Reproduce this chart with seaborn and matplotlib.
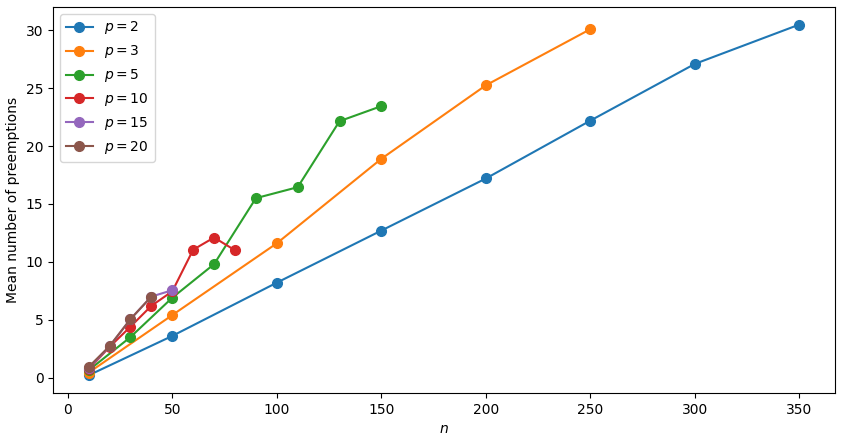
import matplotlib
matplotlib.use("Agg")
import matplotlib.pyplot as plt
import seaborn as sns

p_values = [2, 3, 5, 10, 15, 20]

n_p2 = [10, 50, 100, 150, 200, 250, 300, 350]
y_p2 = [0.2, 3.6, 8.2, 12.7, 17.2, 22.2, 27.1, 30.5]

n_p3 = [10, 50, 100, 150, 200, 250]
y_p3 = [0.43, 5.4, 11.6, 18.9, 25.25, 30.1]

n_p5 = [10, 30, 50, 70, 90, 110, 130, 150]
y_p5 = [0.63, 3.5, 6.9, 9.8, 15.5, 16.45, 22.15, 23.45]

n_p10 = [10, 20, 30, 40, 50, 60, 70, 80]
y_p10 = [0.72, 2.65, 4.4, 6.2, 7.45, 11.05, 12.1, 11.0]

n_p15 = [10, 20, 30, 40, 50]
y_p15 = [0.8, 2.7, 5.05, 7.0, 7.55]

n_p20 = [10, 20, 30, 40]
y_p20 = [0.92, 2.72, 5.05, 7.0]

series = [(n_p2, y_p2), (n_p3, y_p3), (n_p5, y_p5), (n_p10, y_p10), (n_p15, y_p15), (n_p20, y_p20)]
colors = ["#1f77b4", "#ff7f0e", "#2ca02c", "#d62728", "#9467bd", "#8c564b"]

fig, ax = plt.subplots(figsize=(8.43, 4.36), dpi=100)
for p, (xs, ys), c in zip(p_values, series, colors):
    sns.lineplot(x=xs, y=ys, ax=ax, color=c, marker="o", markersize=7,
                 markeredgecolor=c, markeredgewidth=1, linewidth=1.5,
                 label=f"$p = {p}$")

ax.set_xlabel("$n$")
ax.set_ylabel("Mean number of preemptions")
ax.set_xticks([0, 50, 100, 150, 200, 250, 300, 350])
ax.set_yticks([0, 5, 10, 15, 20, 25, 30])
ax.legend(loc="upper left")
fig.subplots_adjust(left=0.063, right=0.9905, top=0.984, bottom=0.099)
fig.savefig("out.png", dpi=100)
